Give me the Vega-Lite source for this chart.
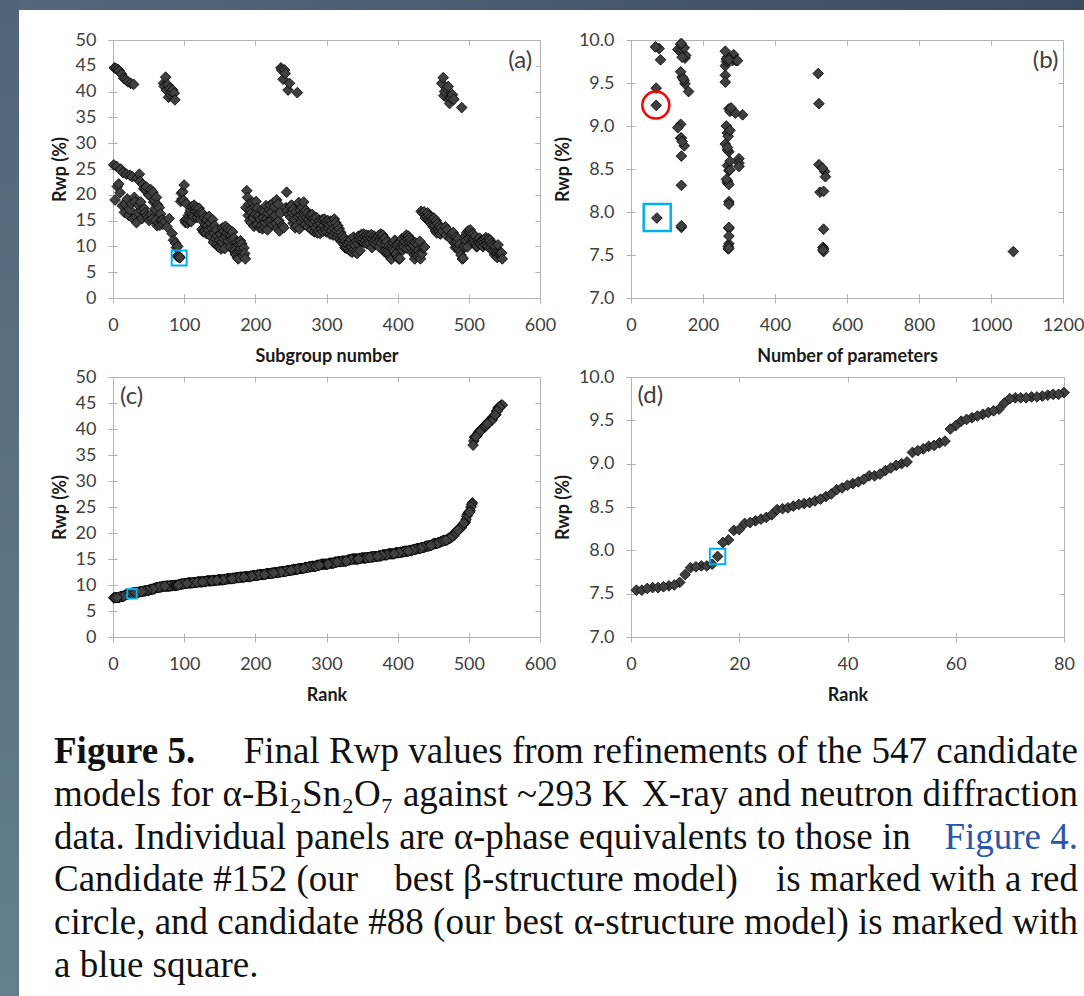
{
"$schema": "https://vega.github.io/schema/vega-lite/v6.json",
"padding": 0,
"background": "white",
"config": {
  "font": "Lato",
  "view": {"stroke": "#b3b3b3"},
  "axis": {"domain": false, "grid": false, "tickColor": "#b3b3b3", "tickWidth": 1, "tickSize": 9, "offset": -4, "labelFont": "Lato", "labelFontSize": 18, "labelColor": "#404040", "labelPadding": 12, "labelFlush": false, "titleFont": "Lato", "titleFontSize": 18, "titleFontWeight": "bold", "titleColor": "#1a1a1a"},
  "axisX": {"titlePadding": 13, "labelPadding": 13},
  "axisY": {"titlePadding": 6}
},
"datasets": {
"cand": [
{"s":1,"r":25.8},{"s":2,"r":44.6},{"s":3,"r":19.0},{"s":4,"r":44.5},{"s":5,"r":25.5},{"s":6,"r":21.6},{"s":7,"r":44.3},{"s":8,"r":22.1},{"s":9,"r":44.0},{"s":10,"r":20.4},
{"s":11,"r":25.0},{"s":12,"r":43.4},{"s":13,"r":17.9},{"s":14,"r":24.3},{"s":15,"r":42.6},{"s":16,"r":16.6},{"s":17,"r":18.2},{"s":18,"r":42.3},{"s":19,"r":24.0},{"s":20,"r":19.2},
{"s":21,"r":41.9},{"s":22,"r":16.0},{"s":23,"r":17.2},{"s":24,"r":23.8},{"s":25,"r":41.6},{"s":26,"r":18.3},{"s":27,"r":23.5},{"s":28,"r":15.4},{"s":29,"r":41.4},{"s":30,"r":19.5},
{"s":31,"r":18.6},{"s":32,"r":15.8},{"s":33,"r":14.6},{"s":34,"r":23.2},{"s":35,"r":16.6},{"s":36,"r":18.0},{"s":37,"r":24.0},{"s":38,"r":22.6},{"s":39,"r":18.6},{"s":40,"r":17.0},
{"s":41,"r":15.4},{"s":42,"r":22.0},{"s":43,"r":21.2},{"s":44,"r":17.3},{"s":45,"r":16.5},{"s":46,"r":20.9},{"s":47,"r":21.5},{"s":48,"r":16.0},{"s":49,"r":15.5},{"s":50,"r":20.0},
{"s":51,"r":15.0},{"s":52,"r":19.9},{"s":53,"r":21.0},{"s":54,"r":16.2},{"s":55,"r":15.3},{"s":56,"r":20.5},{"s":57,"r":18.6},{"s":58,"r":19.0},{"s":59,"r":17.3},{"s":60,"r":15.1},
{"s":61,"r":19.5},{"s":62,"r":14.0},{"s":63,"r":18.0},{"s":64,"r":14.5},{"s":65,"r":17.5},{"s":66,"r":14.1},{"s":67,"r":16.3},{"s":68,"r":15.0},{"s":69,"r":15.1},{"s":70,"r":14.3},
{"s":71,"r":41.6},{"s":72,"r":41.0},{"s":73,"r":14.8},{"s":74,"r":42.8},{"s":75,"r":40.3},{"s":76,"r":13.8},{"s":77,"r":41.3},{"s":78,"r":38.9},{"s":79,"r":15.4},{"s":80,"r":40.6},
{"s":81,"r":39.4},{"s":82,"r":40.0},{"s":83,"r":12.5},{"s":84,"r":40.3},{"s":85,"r":11.2},{"s":86,"r":39.7},{"s":87,"r":38.4},{"s":88,"r":10.6},{"s":89,"r":9.77,"n":82},{"s":90,"r":8.12,"n":272},
{"s":91,"r":10.0},{"s":92,"r":7.93,"n":72},{"s":93,"r":8.09,"n":272},{"s":94,"r":7.82,"n":140},{"s":95,"r":18.7},{"s":96,"r":20.3},{"s":97,"r":19.2},{"s":98,"r":20.6},{"s":99,"r":18.9},{"s":100,"r":21.9},
{"s":101,"r":15.0},{"s":102,"r":14.6},{"s":103,"r":18.3},{"s":104,"r":15.2},{"s":105,"r":14.5},{"s":106,"r":16.0},{"s":107,"r":15.0},{"s":108,"r":16.5},{"s":109,"r":17.0},{"s":110,"r":14.8},
{"s":111,"r":17.7},{"s":112,"r":16.2},{"s":113,"r":15.8},{"s":114,"r":18.0},{"s":115,"r":17.2},{"s":116,"r":16.8},{"s":117,"r":17.5},{"s":118,"r":15.6},{"s":119,"r":16.9},{"s":120,"r":16.3},
{"s":121,"r":17.4},{"s":122,"r":16.1},{"s":123,"r":15.3},{"s":124,"r":16.6},{"s":125,"r":13.3},{"s":126,"r":16.3},{"s":127,"r":12.8},{"s":128,"r":15.5},{"s":129,"r":13.0},{"s":130,"r":14.2},
{"s":131,"r":12.5},{"s":132,"r":15.2},{"s":133,"r":14.0},{"s":134,"r":13.2},{"s":135,"r":15.8},{"s":136,"r":12.2},{"s":137,"r":14.5},{"s":138,"r":11.8},{"s":139,"r":13.5},{"s":140,"r":15.2},
{"s":141,"r":10.8},{"s":142,"r":12.6},{"s":143,"r":14.0},{"s":144,"r":11.5},{"s":145,"r":13.2},{"s":146,"r":10.4},{"s":147,"r":12.0},{"s":148,"r":9.89,"n":130},{"s":149,"r":11.2},{"s":150,"r":9.86,"n":138},
{"s":151,"r":12.4},{"s":152,"r":9.49,"n":150},{"s":153,"r":10.8},{"s":154,"r":13.6},{"s":155,"r":11.6},{"s":156,"r":12.9},{"s":157,"r":9.57,"n":142},{"s":158,"r":13.9},{"s":159,"r":11.9},{"s":160,"r":12.6},
{"s":161,"r":13.5},{"s":162,"r":11.0},{"s":163,"r":12.2},{"s":164,"r":13.1},{"s":165,"r":9.79,"n":150},{"s":166,"r":12.0},{"s":167,"r":11.3},{"s":168,"r":12.8},{"s":169,"r":9.44,"n":70},{"s":170,"r":11.6},
{"s":171,"r":9.20,"n":272},{"s":172,"r":8.54,"n":268},{"s":173,"r":8.31,"n":140},{"s":174,"r":10.8},{"s":175,"r":7.80,"n":535},{"s":176,"r":7.57,"n":270},{"s":177,"r":10.4},{"s":178,"r":9.00,"n":265},{"s":179,"r":11.1},{"s":180,"r":9.59,"n":262},
{"s":181,"r":10.5},{"s":182,"r":8.77,"n":148},{"s":183,"r":8.23,"n":525},{"s":184,"r":9.70,"n":262},{"s":185,"r":8.62,"n":300},{"s":186,"r":7.59,"n":533},{"s":187,"r":17.5},{"s":188,"r":20.8},{"s":189,"r":19.5},{"s":190,"r":16.0},
{"s":191,"r":18.2},{"s":192,"r":15.0},{"s":193,"r":17.0},{"s":194,"r":14.6},{"s":195,"r":16.5},{"s":196,"r":18.5},{"s":197,"r":15.5},{"s":198,"r":13.9},{"s":199,"r":17.6},{"s":200,"r":16.2},
{"s":201,"r":18.7},{"s":202,"r":14.2},{"s":203,"r":17.4},{"s":204,"r":15.8},{"s":205,"r":16.0},{"s":206,"r":13.6},{"s":207,"r":15.2},{"s":208,"r":14.0},{"s":209,"r":17.0},{"s":210,"r":13.4},
{"s":211,"r":15.6},{"s":212,"r":16.8},{"s":213,"r":13.8},{"s":214,"r":14.6},{"s":215,"r":17.9},{"s":216,"r":15.4},{"s":217,"r":13.2},{"s":218,"r":16.4},{"s":219,"r":14.9},{"s":220,"r":17.2},
{"s":221,"r":18.0},{"s":222,"r":15.1},{"s":223,"r":16.6},{"s":224,"r":14.2},{"s":225,"r":18.4},{"s":226,"r":15.8},{"s":227,"r":17.6},{"s":228,"r":16.0},{"s":229,"r":14.5},{"s":230,"r":19.0},
{"s":231,"r":13.5},{"s":232,"r":18.2},{"s":233,"r":15.0},{"s":234,"r":13.0},{"s":235,"r":16.4},{"s":236,"r":44.6},{"s":237,"r":44.2},{"s":238,"r":14.0},{"s":239,"r":42.4},{"s":240,"r":13.6},
{"s":241,"r":44.2},{"s":242,"r":43.5},{"s":243,"r":17.5},{"s":244,"r":20.5},{"s":245,"r":16.9},{"s":246,"r":40.3},{"s":247,"r":16.2},{"s":248,"r":41.6},{"s":249,"r":17.8},{"s":250,"r":15.6},
{"s":251,"r":18.0},{"s":252,"r":16.5},{"s":253,"r":14.5},{"s":254,"r":17.2},{"s":255,"r":15.2},{"s":256,"r":13.6},{"s":257,"r":16.7},{"s":258,"r":14.0},{"s":259,"r":39.8},{"s":260,"r":15.8},
{"s":261,"r":18.5},{"s":262,"r":13.4},{"s":263,"r":17.0},{"s":264,"r":16.0},{"s":265,"r":14.8},{"s":266,"r":17.6},{"s":267,"r":15.5},{"s":268,"r":18.6},{"s":269,"r":16.3},{"s":270,"r":14.2},
{"s":271,"r":17.0},{"s":272,"r":15.6},{"s":273,"r":16.4},{"s":274,"r":13.8},{"s":275,"r":15.2},{"s":276,"r":16.0},{"s":277,"r":14.6},{"s":278,"r":15.9},{"s":279,"r":13.2},{"s":280,"r":16.2},
{"s":281,"r":14.4},{"s":282,"r":15.4},{"s":283,"r":12.8},{"s":284,"r":14.9},{"s":285,"r":13.6},{"s":286,"r":15.6},{"s":287,"r":12.6},{"s":288,"r":14.2},{"s":289,"r":13.0},{"s":290,"r":15.0},
{"s":291,"r":12.5},{"s":292,"r":14.4},{"s":293,"r":13.4},{"s":294,"r":15.2},{"s":295,"r":12.9},{"s":296,"r":14.0},{"s":297,"r":15.3},{"s":298,"r":13.2},{"s":299,"r":14.7},{"s":300,"r":12.8},
{"s":301,"r":14.5},{"s":302,"r":15.0},{"s":303,"r":13.6},{"s":304,"r":14.2},{"s":305,"r":12.4},{"s":306,"r":14.9},{"s":307,"r":13.0},{"s":308,"r":14.4},{"s":309,"r":12.2},{"s":310,"r":13.5},
{"s":311,"r":15.3},{"s":312,"r":12.6},{"s":313,"r":14.6},{"s":314,"r":13.1},{"s":315,"r":11.8},{"s":316,"r":14.0},{"s":317,"r":12.3},{"s":318,"r":13.4},{"s":319,"r":11.4},{"s":320,"r":12.7},
{"s":321,"r":10.9},{"s":322,"r":12.0},{"s":323,"r":11.2},{"s":324,"r":10.4},{"s":325,"r":11.6},{"s":326,"r":9.76,"n":282},{"s":327,"r":11.0},{"s":328,"r":9.63,"n":138},{"s":329,"r":10.6},{"s":330,"r":10.3},
{"s":331,"r":9.53,"n":148},{"s":332,"r":10.8},{"s":333,"r":9.13,"n":310},{"s":334,"r":11.4},{"s":335,"r":9.83,"n":285},{"s":336,"r":8.86,"n":138},{"s":337,"r":10.5},{"s":338,"r":11.8},{"s":339,"r":9.40,"n":160},{"s":340,"r":10.2},
{"s":341,"r":8.92,"n":268},{"s":342,"r":11.0},{"s":343,"r":8.65,"n":140},{"s":344,"r":10.6},{"s":345,"r":12.0},{"s":346,"r":11.3},{"s":347,"r":9.17,"n":275},{"s":348,"r":11.7},{"s":349,"r":12.3},{"s":350,"r":10.9},
{"s":351,"r":11.5},{"s":352,"r":12.4},{"s":353,"r":10.7},{"s":354,"r":11.9},{"s":355,"r":11.1},{"s":356,"r":12.2},{"s":357,"r":10.5},{"s":358,"r":11.6},{"s":359,"r":12.1},{"s":360,"r":11.0},
{"s":361,"r":10.6},{"s":362,"r":11.8},{"s":363,"r":12.3},{"s":364,"r":9.76,"n":292},{"s":365,"r":11.4},{"s":366,"r":10.8},{"s":367,"r":12.0},{"s":368,"r":11.2},{"s":369,"r":10.4},{"s":370,"r":11.7},
{"s":371,"r":11.5},{"s":372,"r":10.9},{"s":373,"r":12.1},{"s":374,"r":9.89,"n":142},{"s":375,"r":11.1},{"s":376,"r":12.4},{"s":377,"r":10.7},{"s":378,"r":11.9},{"s":379,"r":12.2},{"s":380,"r":11.3},
{"s":381,"r":9.02,"n":138},{"s":382,"r":11.6},{"s":383,"r":10.4},{"s":384,"r":8.86,"n":140},{"s":385,"r":10.9},{"s":386,"r":8.47,"n":538},{"s":387,"r":8.70,"n":272},{"s":388,"r":10.2},{"s":389,"r":8.34,"n":268},{"s":390,"r":7.81,"n":272},
{"s":391,"r":7.54,"n":1062},{"s":392,"r":10.1},{"s":393,"r":9.51,"n":262},{"s":394,"r":10.7},{"s":395,"r":9.15,"n":290},{"s":396,"r":11.2},{"s":397,"r":8.48,"n":272},{"s":398,"r":8.55,"n":522},{"s":399,"r":10.3},{"s":400,"r":7.82,"n":272},
{"s":401,"r":10.6},{"s":402,"r":7.54,"n":535},{"s":403,"r":7.63,"n":272},{"s":404,"r":10.9},{"s":405,"r":9.75,"n":265},{"s":406,"r":11.5},{"s":407,"r":9.24,"n":70},{"s":408,"r":10.4},{"s":409,"r":9.82,"n":152},{"s":410,"r":11.0},
{"s":411,"r":11.8},{"s":412,"r":12.2},{"s":413,"r":9.61,"n":520},{"s":414,"r":11.4},{"s":415,"r":12.0},{"s":416,"r":10.8},{"s":417,"r":11.6},{"s":418,"r":9.80,"n":268},{"s":419,"r":11.1},{"s":420,"r":10.5},
{"s":421,"r":8.88,"n":270},{"s":422,"r":10.2},{"s":423,"r":8.36,"n":268},{"s":424,"r":7.57,"n":535},{"s":425,"r":10.7},{"s":426,"r":8.72,"n":268},{"s":427,"r":8.24,"n":535},{"s":428,"r":10.3},{"s":429,"r":9.26,"n":522},{"s":430,"r":8.49,"n":275},
{"s":431,"r":11.0},{"s":432,"r":7.60,"n":270},{"s":433,"r":16.8},{"s":434,"r":8.57,"n":300},{"s":435,"r":16.5},{"s":436,"r":9.78,"n":265},{"s":437,"r":16.7},{"s":438,"r":9.87,"n":262},{"s":439,"r":15.5},{"s":440,"r":16.2},
{"s":441,"r":15.8},{"s":442,"r":16.5},{"s":443,"r":15.2},{"s":444,"r":16.0},{"s":445,"r":15.0},{"s":446,"r":14.6},{"s":447,"r":15.7},{"s":448,"r":14.2},{"s":449,"r":15.3},{"s":450,"r":13.8},
{"s":451,"r":15.5},{"s":452,"r":14.0},{"s":453,"r":13.0},{"s":454,"r":15.0},{"s":455,"r":12.6},{"s":456,"r":14.4},{"s":457,"r":13.4},{"s":458,"r":12.8},{"s":459,"r":14.0},{"s":460,"r":12.4},
{"s":461,"r":13.6},{"s":462,"r":41.6},{"s":463,"r":12.9},{"s":464,"r":42.7},{"s":465,"r":39.2},{"s":466,"r":40.0},{"s":467,"r":13.8},{"s":468,"r":12.2},{"s":469,"r":40.6},{"s":470,"r":13.2},
{"s":471,"r":41.0},{"s":472,"r":38.4},{"s":473,"r":37.7},{"s":474,"r":11.5},{"s":475,"r":38.7},{"s":476,"r":12.4},{"s":477,"r":39.4},{"s":478,"r":12.7},{"s":479,"r":38.5},{"s":480,"r":10.6},
{"s":481,"r":9.77,"n":272},{"s":482,"r":11.8},{"s":483,"r":10.9},{"s":484,"r":9.80,"n":142},{"s":485,"r":11.5},{"s":486,"r":9.55,"n":145},{"s":487,"r":10.4},{"s":488,"r":8.98,"n":130},{"s":489,"r":8.32,"n":272},{"s":490,"r":36.9},
{"s":491,"r":7.56,"n":533},{"s":492,"r":7.72,"n":272},{"s":493,"r":10.1},{"s":494,"r":9.91,"n":148},{"s":495,"r":12.0},{"s":496,"r":11.2},{"s":497,"r":12.6},{"s":498,"r":9.90,"n":78},{"s":499,"r":13.0},{"s":500,"r":11.6},
{"s":501,"r":12.8},{"s":502,"r":13.2},{"s":503,"r":11.9},{"s":504,"r":12.5},{"s":505,"r":10.8},{"s":506,"r":12.3},{"s":507,"r":11.4},{"s":508,"r":11.0},{"s":509,"r":12.0},{"s":510,"r":10.5},
{"s":511,"r":9.92,"n":68},{"s":512,"r":10.1},{"s":513,"r":11.3},{"s":514,"r":10.7},{"s":515,"r":11.6},{"s":516,"r":10.4},{"s":517,"r":11.0},{"s":518,"r":10.6},{"s":519,"r":11.2},{"s":520,"r":9.95,"n":138},
{"s":521,"r":10.8},{"s":522,"r":11.4},{"s":523,"r":10.3},{"s":524,"r":11.7},{"s":525,"r":11.0},{"s":526,"r":10.5},{"s":527,"r":9.96,"n":140},{"s":528,"r":11.5},{"s":529,"r":10.9},{"s":530,"r":11.2},
{"s":531,"r":9.76,"n":296},{"s":532,"r":10.6},{"s":533,"r":9.21,"n":278},{"s":534,"r":10.2},{"s":535,"r":8.95,"n":275},{"s":536,"r":8.38,"n":265},{"s":537,"r":10.0},{"s":538,"r":8.79,"n":262},{"s":539,"r":8.51,"n":532},{"s":540,"r":7.84,"n":140},
{"s":541,"r":10.3},{"s":542,"r":8.41,"n":540},{"s":543,"r":8.59,"n":275},{"s":544,"r":8.82,"n":142},{"s":545,"r":8.53,"n":300},{"s":546,"r":8.75,"n":268},{"s":547,"r":7.58,"n":272}
],
"caption": [
{"line":1,"left":"Figure 5.","mid":"","right":"Final Rwp values from refinements of the 547 candidate"},
{"line":2,"left":"models for α-Bi₂Sn₂O₇ against ~293 K","mid":"","right":"X-ray and neutron diffraction"},
{"line":3,"left":"data. Individual panels are α-phase equivalents to those in","mid":"","right":"Figure 4."},
{"line":4,"left":"Candidate #152 (our","mid":"best β-structure model)","right":"is marked with a red"},
{"line":5,"left":"circle, and candidate #88 (our best","mid":"","right":"α-structure model) is marked with"},
{"line":6,"left":"a blue square.","mid":"","right":""}
]
},
"bounds": "flush",
"spacing": 0,
"hconcat": [
{
  "width": 19, "height": 996, "view": {"stroke": null},
  "data": {"values": [{"k": 0}]},
  "mark": {"type": "rect", "fill": {"gradient": "linear", "x1": 0, "y1": 0, "x2": 0, "y2": 1, "stops": [{"offset": 0, "color": "#50657a"}, {"offset": 1, "color": "#637f8d"}]}},
  "encoding": {
    "x": {"datum": 0, "type": "quantitative", "scale": {"domain": [0, 1], "nice": false, "zero": false}, "axis": null},
    "x2": {"datum": 1},
    "y": {"datum": 0, "type": "quantitative", "scale": {"domain": [0, 1], "nice": false, "zero": false}, "axis": null},
    "y2": {"datum": 1}
  }
},
{
  "bounds": "flush",
  "spacing": 30,
  "vconcat": [
  {
    "width": 1065, "height": 10, "view": {"stroke": null},
    "data": {"values": [{"k": 0}]},
    "mark": {"type": "rect", "fill": {"gradient": "linear", "x1": 0, "y1": 0, "x2": 1, "y2": 0, "stops": [{"offset": 0, "color": "#53687c"}, {"offset": 1, "color": "#3c4b60"}]}},
    "encoding": {
      "x": {"datum": 0, "type": "quantitative", "scale": {"domain": [0, 1], "nice": false, "zero": false}, "axis": null},
      "x2": {"datum": 1},
      "y": {"datum": 0, "type": "quantitative", "scale": {"domain": [0, 1], "nice": false, "zero": false}, "axis": null},
      "y2": {"datum": 1}
    }
  },
  {
    "bounds": "flush",
    "spacing": 0,
    "vconcat": [
    {
      "bounds": "flush",
      "spacing": 91,
      "hconcat": [
      {"width": 3, "height": 10, "view": {"stroke": null}, "data": {"values": [{"k": 0}]}, "mark": {"type": "text", "text": ""}, "encoding": {}},
      {
        "width": 427, "height": 258,
        "resolve": {"axis": {"x": "independent", "y": "independent"}},
        "layer": [
        {
          "data": {"name": "cand"},
          "mark": {"type": "point", "shape": "diamond", "filled": true, "fill": "#404040", "stroke": "#000000", "strokeWidth": 0.8, "size": 115, "opacity": 1},
          "encoding": {
            "x": {"field": "s", "type": "quantitative", "scale": {"domain": [0, 600], "nice": false, "zero": false}, "axis": {"values": [0,100,200,300,400,500,600], "format": "d", "title": "Subgroup number"}},
            "y": {"field": "r", "type": "quantitative", "scale": {"domain": [0, 50], "nice": false}, "axis": {"values": [0,5,10,15,20,25,30,35,40,45,50], "title": "Rwp (%)"}}
          }
        },
        {
          "data": {"values": [{"label": "(a)"}]},
          "mark": {"type": "text", "align": "right", "baseline": "middle", "font": "Lato", "fontSize": 24, "color": "#404040"},
          "encoding": {
            "text": {"field": "label"},
            "x": {"datum": 589, "type": "quantitative", "axis": {"orient": "top", "labels": false, "title": null, "values": [0,100,200,300,400,500,600], "tickSize": 5, "offset": -5}},
            "y": {"datum": 45.9, "type": "quantitative", "axis": {"orient": "right", "labels": false, "title": null, "values": [0,5,10,15,20,25,30,35,40,45,50], "tickSize": 5, "offset": -5}}
          }
        },
        {
          "data": {"values": [{"label": "best alpha"}]},
          "mark": {"type": "point", "shape": "square", "filled": false, "stroke": "#00b0f0", "strokeWidth": 2, "size": 225, "opacity": 1},
          "encoding": {"x": {"datum": 93, "type": "quantitative", "axis": null}, "y": {"datum": 7.75, "type": "quantitative", "axis": null}}
        }
        ]
      },
      {
        "width": 432, "height": 258,
        "resolve": {"axis": {"x": "independent", "y": "independent"}},
        "layer": [
        {
          "data": {"name": "cand"},
          "transform": [{"filter": "isValid(datum.n)"}],
          "mark": {"type": "point", "shape": "diamond", "filled": true, "fill": "#404040", "stroke": "#000000", "strokeWidth": 0.8, "size": 115, "opacity": 1},
          "encoding": {
            "x": {"field": "n", "type": "quantitative", "scale": {"domain": [0, 1200], "nice": false, "zero": false}, "axis": {"values": [0,200,400,600,800,1000,1200], "format": "d", "title": "Number of parameters"}},
            "y": {"field": "r", "type": "quantitative", "scale": {"domain": [7, 10], "nice": false, "zero": false}, "axis": {"values": [7,7.5,8,8.5,9,9.5,10], "format": ".1f", "title": "Rwp (%)"}}
          }
        },
        {
          "data": {"values": [{"label": "(b)"}]},
          "mark": {"type": "text", "align": "right", "baseline": "middle", "font": "Lato", "fontSize": 24, "color": "#404040"},
          "encoding": {
            "text": {"field": "label"},
            "x": {"datum": 1187, "type": "quantitative", "axis": {"orient": "top", "labels": false, "title": null, "values": [0,200,400,600,800,1000,1200], "tickSize": 5, "offset": -5}},
            "y": {"datum": 9.76, "type": "quantitative", "axis": {"orient": "right", "labels": false, "title": null, "values": [7,7.5,8,8.5,9,9.5,10], "tickSize": 5, "offset": -5}}
          }
        },
        {
          "data": {"values": [{"label": "best beta"}]},
          "mark": {"type": "point", "shape": "circle", "filled": false, "stroke": "#ff0000", "strokeWidth": 2.5, "size": 729, "opacity": 1},
          "encoding": {"x": {"datum": 69, "type": "quantitative", "axis": null}, "y": {"datum": 9.243, "type": "quantitative", "axis": null}}
        },
        {
          "data": {"values": [{"label": "best alpha"}]},
          "mark": {"type": "point", "shape": "square", "filled": false, "stroke": "#00b0f0", "strokeWidth": 2.5, "size": 729, "opacity": 1},
          "encoding": {"x": {"datum": 72.8, "type": "quantitative", "axis": null}, "y": {"datum": 7.935, "type": "quantitative", "axis": null}}
        }
        ]
      }
      ]
    },
    {"width": 1, "height": 337, "view": {"stroke": null}, "data": {"values": [{"k": 0}]}, "mark": {"type": "text", "text": ""}, "encoding": {}},
    {
      "bounds": "flush",
      "spacing": 91,
      "hconcat": [
      {"width": 3, "height": 10, "view": {"stroke": null}, "data": {"values": [{"k": 0}]}, "mark": {"type": "text", "text": ""}, "encoding": {}},
      {
        "width": 427, "height": 260,
        "resolve": {"axis": {"x": "independent", "y": "independent"}},
        "layer": [
        {
          "data": {"name": "cand"},
          "transform": [{"window": [{"op": "row_number", "as": "rank"}], "sort": [{"field": "r", "order": "ascending"}]}],
          "mark": {"type": "point", "shape": "diamond", "filled": true, "fill": "#404040", "stroke": "#000000", "strokeWidth": 0.8, "size": 115, "opacity": 1},
          "encoding": {
            "x": {"field": "rank", "type": "quantitative", "scale": {"domain": [0, 600], "nice": false, "zero": false}, "axis": {"values": [0,100,200,300,400,500,600], "format": "d", "title": "Rank"}},
            "y": {"field": "r", "type": "quantitative", "scale": {"domain": [0, 50], "nice": false}, "axis": {"values": [0,5,10,15,20,25,30,35,40,45,50], "title": "Rwp (%)"}}
          }
        },
        {
          "data": {"values": [{"label": "(c)"}]},
          "mark": {"type": "text", "align": "left", "baseline": "middle", "font": "Lato", "fontSize": 24, "color": "#404040"},
          "encoding": {
            "text": {"field": "label"},
            "x": {"datum": 9.8, "type": "quantitative", "axis": {"orient": "top", "labels": false, "title": null, "values": [0,100,200,300,400,500,600], "tickSize": 5, "offset": -5}},
            "y": {"datum": 46.2, "type": "quantitative", "axis": {"orient": "right", "labels": false, "title": null, "values": [0,5,10,15,20,25,30,35,40,45,50], "tickSize": 5, "offset": -5}}
          }
        },
        {
          "data": {"values": [{"label": "best alpha"}]},
          "mark": {"type": "point", "shape": "square", "filled": false, "stroke": "#00b0f0", "strokeWidth": 2, "size": 90, "opacity": 1},
          "encoding": {"x": {"datum": 26.7, "type": "quantitative", "axis": null}, "y": {"datum": 8.33, "type": "quantitative", "axis": null}}
        }
        ]
      },
      {
        "width": 433, "height": 260,
        "resolve": {"axis": {"x": "independent", "y": "independent"}},
        "layer": [
        {
          "data": {"name": "cand"},
          "transform": [{"window": [{"op": "row_number", "as": "rank"}], "sort": [{"field": "r", "order": "ascending"}]}, {"filter": "datum.rank <= 80"}],
          "mark": {"type": "point", "shape": "diamond", "filled": true, "fill": "#404040", "stroke": "#000000", "strokeWidth": 0.8, "size": 115, "opacity": 1},
          "encoding": {
            "x": {"field": "rank", "type": "quantitative", "scale": {"domain": [0, 80], "nice": false, "zero": false}, "axis": {"values": [0,20,40,60,80], "format": "d", "title": "Rank"}},
            "y": {"field": "r", "type": "quantitative", "scale": {"domain": [7, 10], "nice": false, "zero": false}, "axis": {"values": [7,7.5,8,8.5,9,9.5,10], "format": ".1f", "title": "Rwp (%)"}}
          }
        },
        {
          "data": {"values": [{"label": "(d)"}]},
          "mark": {"type": "text", "align": "left", "baseline": "middle", "font": "Lato", "fontSize": 24, "color": "#404040"},
          "encoding": {
            "text": {"field": "label"},
            "x": {"datum": 1.2, "type": "quantitative", "axis": {"orient": "top", "labels": false, "title": null, "values": [0,20,40,60,80], "tickSize": 5, "offset": -5}},
            "y": {"datum": 9.78, "type": "quantitative", "axis": {"orient": "right", "labels": false, "title": null, "values": [7,7.5,8,8.5,9,9.5,10], "tickSize": 5, "offset": -5}}
          }
        },
        {
          "data": {"values": [{"label": "best alpha"}]},
          "mark": {"type": "point", "shape": "square", "filled": false, "stroke": "#00b0f0", "strokeWidth": 2, "size": 240, "opacity": 1},
          "encoding": {"x": {"datum": 16, "type": "quantitative", "axis": null}, "y": {"datum": 7.93, "type": "quantitative", "axis": null}}
        }
        ]
      }
      ]
    },
    {"width": 1, "height": 339, "view": {"stroke": null}, "data": {"values": [{"k": 0}]}, "mark": {"type": "text", "text": ""}, "encoding": {}},
    {
      "bounds": "flush",
      "spacing": 34,
      "hconcat": [
      {"width": 1, "height": 10, "view": {"stroke": null}, "data": {"values": [{"k": 0}]}, "mark": {"type": "text", "text": ""}, "encoding": {}},
      {
        "width": 1024, "height": 278, "view": {"stroke": null},
        "data": {"name": "caption"},
        "encoding": {"y": {"field": "line", "type": "quantitative", "scale": {"domain": [-0.1, 6.4], "reverse": true, "nice": false, "zero": false}, "axis": null}},
        "layer": [
        {
          "transform": [{"filter": "datum.line != 1"}],
          "mark": {"type": "text", "align": "left", "baseline": "alphabetic", "font": "Liberation Serif", "fontSize": 37, "color": "#111111"},
          "encoding": {"x": {"datum": 0, "type": "quantitative", "scale": {"domain": [0, 1], "nice": false, "zero": false}, "axis": null}, "text": {"field": "left"}}
        },
        {
          "transform": [{"filter": "datum.line == 1"}],
          "mark": {"type": "text", "align": "left", "baseline": "alphabetic", "font": "Liberation Serif", "fontSize": 37, "fontWeight": "bold", "color": "#111111"},
          "encoding": {"x": {"datum": 0, "type": "quantitative", "scale": {"domain": [0, 1], "nice": false, "zero": false}, "axis": null}, "text": {"field": "left"}}
        },
        {
          "transform": [{"filter": "datum.mid != ''"}],
          "mark": {"type": "text", "align": "center", "baseline": "alphabetic", "font": "Liberation Serif", "fontSize": 37, "color": "#111111"},
          "encoding": {"x": {"datum": 0.5, "type": "quantitative", "scale": {"domain": [0, 1], "nice": false, "zero": false}, "axis": null}, "text": {"field": "mid"}}
        },
        {
          "transform": [{"filter": "datum.line != 3"}],
          "mark": {"type": "text", "align": "right", "baseline": "alphabetic", "font": "Liberation Serif", "fontSize": 37, "color": "#111111"},
          "encoding": {"x": {"datum": 1, "type": "quantitative", "scale": {"domain": [0, 1], "nice": false, "zero": false}, "axis": null}, "text": {"field": "right"}}
        },
        {
          "transform": [{"filter": "datum.line == 3"}],
          "mark": {"type": "text", "align": "right", "baseline": "alphabetic", "font": "Liberation Serif", "fontSize": 37, "color": "#2a55a8"},
          "encoding": {"x": {"datum": 1, "type": "quantitative", "scale": {"domain": [0, 1], "nice": false, "zero": false}, "axis": null}, "text": {"field": "right"}}
        }
        ]
      }
      ]
    }
    ]
  }
  ]
}
]
}
